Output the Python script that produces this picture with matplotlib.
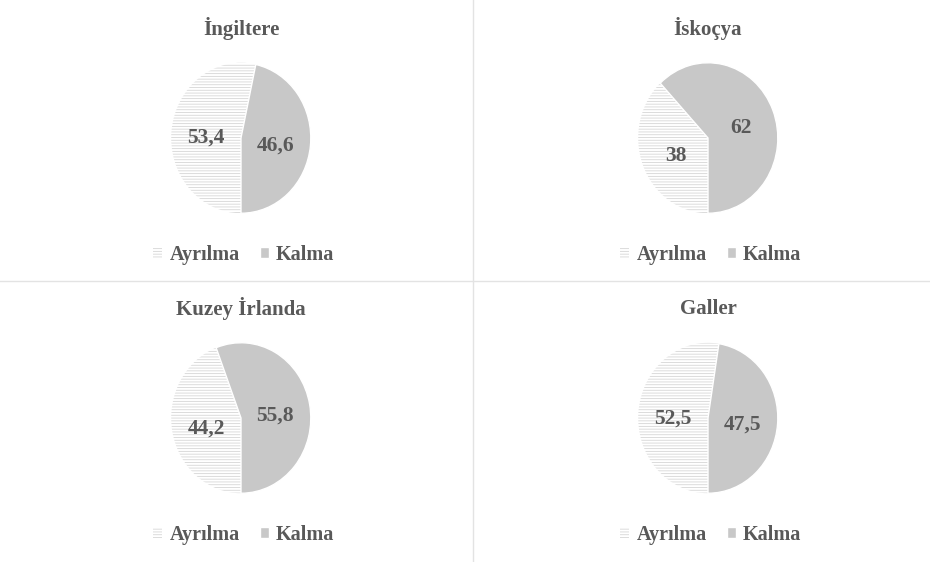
import matplotlib
matplotlib.use('Agg')
import matplotlib.pyplot as plt
import matplotlib.transforms as mtransforms
from matplotlib.lines import Line2D

plt.rcParams['font.family'] = ['Liberation Serif', 'DejaVu Serif']
plt.rcParams['hatch.linewidth'] = 0.6

#### DATA
regions = ['İngiltere', 'İskoçya', 'Kuzey İrlanda', 'Galler']
categories = ['Ayrılma', 'Kalma']
ayrilma = [53.4, 38, 44.2, 52.5]
kalma = [46.6, 62, 55.8, 47.5]
value_labels = [['53,4', '46,6'], ['38', '62'], ['44,2', '55,8'], ['52,5', '47,5']]

W, H = 930, 562
text_col = '#595959'
kalma_col = '#c8c8c8'
hatch_col = '#d6d6d6'

fig = plt.figure(figsize=(W / 100, H / 100), dpi=100)

# pie centres in pixels (from top-left)
centres = [(241, 138), (708, 138), (241, 418), (708, 418)]
rx, ry = 70.5, 76

for i, name in enumerate(regions):
    cx, cy = centres[i]
    ax = fig.add_axes([(cx - rx) / W, (H - cy - ry) / H, 2 * rx / W, 2 * ry / H])
    wedges, texts = ax.pie([ayrilma[i], kalma[i]], labels=value_labels[i],
                           startangle=-90, counterclock=False, radius=1,
                           labeldistance=0.5,
                           textprops=dict(fontsize=15.5, fontweight='bold', color=text_col))
    # nudge value labels down a little, like the original
    shift = mtransforms.offset_copy(ax.transData, fig=fig, x=0, y=-4, units='dots')
    for t in texts:
        t.set_ha('center')
        t.set_va('center')
        t.set_transform(shift)
    # Ayrılma: white with fine horizontal lines
    wedges[0].set_facecolor('white')
    wedges[0].set_edgecolor(hatch_col)
    wedges[0].set_hatch('------')
    wedges[0].set_linewidth(0)
    # Kalma: solid grey
    wedges[1].set_facecolor(kalma_col)
    wedges[1].set_edgecolor('white')
    wedges[1].set_linewidth(1)
    ax.set_aspect('auto')
    ax.set_xlim(-1.01, 1.01)
    ax.set_ylim(-1.01, 1.01)

    # title
    fig.text(cx / W, 1 - (cy - 109) / H, name, ha='center', va='center',
             fontsize=15, fontweight='bold', color=text_col)

    # legend
    leg = fig.legend(wedges, categories, loc='center', ncol=2, frameon=False,
                     bbox_to_anchor=(cx / W + 0.003, 1 - (cy + 117) / H),
                     handlelength=0.45, handleheight=0.45, handletextpad=0.35,
                     columnspacing=1.0,
                     prop=dict(size=14.5, weight='bold'))
    for t in leg.get_texts():
        t.set_color(text_col)

# divider lines
fig.add_artist(Line2D([473 / W, 473 / W], [0, 1], color='#e3e3e3', lw=1))
fig.add_artist(Line2D([0, 1], [1 - 281 / H, 1 - 281 / H], color='#e3e3e3', lw=1))

fig.savefig('out.png', dpi=100)
